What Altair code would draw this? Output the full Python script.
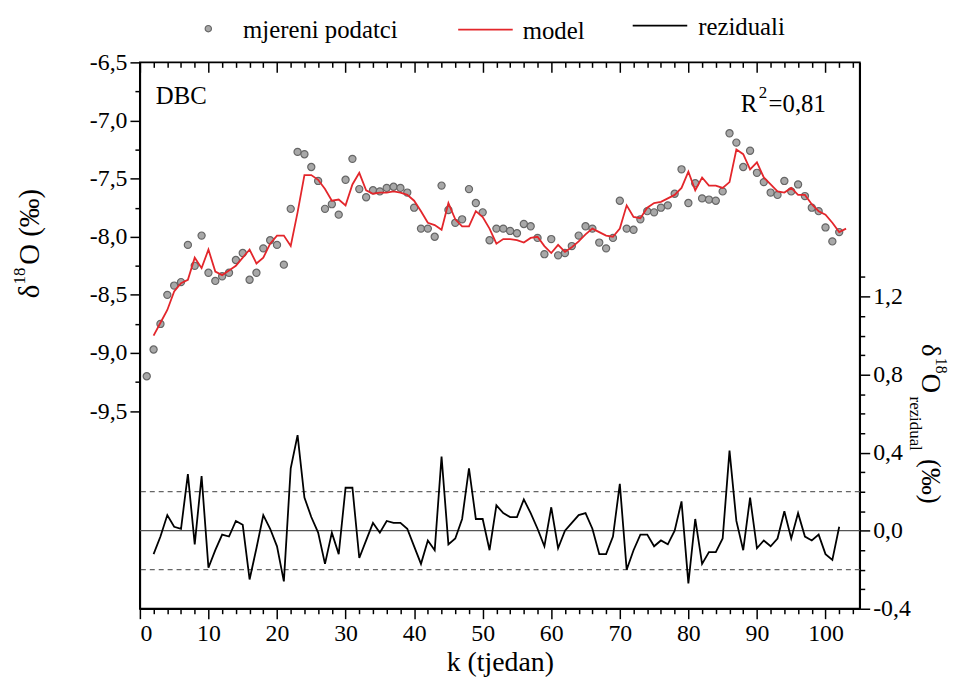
import altair as alt
import pandas as pd

# ---------------- data ----------------
k_measured = list(range(1, 103))
measured = [
    -9.20, -8.97, -8.75, -8.50, -8.42, -8.39, -8.07, -8.25, -7.99, -8.31,
    -8.38, -8.34, -8.31, -8.20, -8.14, -8.37, -8.31, -8.10, -8.03, -8.07,
    -8.24, -7.76, -7.27, -7.29, -7.40, -7.52, -7.76, -7.72, -7.81, -7.51,
    -7.33, -7.59, -7.66, -7.60, -7.61, -7.58, -7.57, -7.58, -7.62, -7.75,
    -7.93, -7.93, -8.00, -7.56, -7.77, -7.88, -7.85, -7.59, -7.71, -7.79,
    -8.03, -7.93, -7.93, -7.95, -7.97, -7.89, -7.91, -8.01, -8.15, -8.02,
    -8.16, -8.14, -8.08, -7.99, -7.91, -7.93, -8.05, -8.10, -8.01, -7.69,
    -7.93, -7.94, -7.85, -7.78, -7.79, -7.75, -7.73, -7.63, -7.42, -7.71,
    -7.54, -7.67, -7.68, -7.69, -7.61, -7.11, -7.19, -7.40, -7.26, -7.45,
    -7.53, -7.62, -7.64, -7.52, -7.61, -7.55, -7.65, -7.75, -7.78, -7.92,
    -8.04, -7.96,
]

k_model = list(range(2, 104))
model = [
    -8.85, -8.74, -8.63, -8.47, -8.40, -8.37, -8.18, -8.27, -8.11,
    -8.30, -8.33, -8.29, -8.25, -8.18, -8.11, -8.23, -8.18, -8.06, -7.99,
    -7.99, -8.08, -7.79, -7.47, -7.47, -7.51, -7.59, -7.69, -7.68, -7.73,
    -7.55, -7.45, -7.60, -7.63, -7.62, -7.62, -7.61, -7.62, -7.64, -7.69,
    -7.78, -7.88, -7.90, -7.94, -7.71, -7.85, -7.91, -7.91, -7.78, -7.83,
    -7.93, -8.06, -8.02, -8.02, -8.03, -8.05, -8.01, -8.00, -8.08, -8.14,
    -8.07, -8.13, -8.09, -8.04, -7.98, -7.93, -7.96, -7.99, -8.00, -7.93,
    -7.73, -7.83, -7.84, -7.75, -7.71, -7.70, -7.67, -7.64, -7.58, -7.44,
    -7.60, -7.49, -7.56, -7.56, -7.58, -7.53, -7.25, -7.29, -7.42, -7.36,
    -7.49, -7.55, -7.61, -7.62, -7.58, -7.64, -7.64, -7.72, -7.78, -7.81,
    -7.88, -7.96, -7.93,
]

k_resid = list(range(2, 103))
residuals = [
    -0.12, -0.03, 0.08, 0.02, 0.01, 0.29, -0.07, 0.28, -0.19,
    -0.10, -0.02, -0.03, 0.05, 0.03, -0.25, -0.09, 0.08, 0.01, -0.08,
    -0.26, 0.32, 0.49, 0.17, 0.07, -0.01, -0.17, -0.01, -0.12, 0.22,
    0.22, -0.14, -0.05, 0.04, -0.01, 0.05, 0.04, 0.04, 0.01, -0.08,
    -0.17, -0.05, -0.10, 0.38, -0.07, -0.04, 0.06, 0.32, 0.06, 0.06,
    -0.10, 0.13, 0.09, 0.07, 0.07, 0.16, 0.09, 0.01, -0.08, 0.12,
    -0.09, 0.00, 0.04, 0.08, 0.09, 0.01, -0.12, -0.12, -0.03, 0.24,
    -0.20, -0.10, -0.02, -0.02, -0.08, -0.05, -0.07, 0.00, 0.15, -0.27,
    0.06, -0.17, -0.11, -0.11, -0.04, 0.41, 0.05, -0.10, 0.17, -0.09,
    -0.05, -0.08, -0.04, 0.10, -0.04, 0.09, -0.03, -0.05, -0.02, -0.12,
    -0.15, 0.02,
]

zero_line = [0.0]
limit_lines = [-0.2, 0.2]

x_major = list(range(0, 101, 10))
x_minor = [v for v in range(2, 105, 2) if v % 10 != 0]
yl_major = [-6.5, -7.0, -7.5, -8.0, -8.5, -9.0, -9.5]
yl_minor = [-6.75, -7.25, -7.75, -8.25, -8.75, -9.25]
yr_major = [-0.4, 0.0, 0.4, 0.8, 1.2]
yr_minor = [-0.3, -0.2, -0.1, 0.1, 0.2, 0.3, 0.5, 0.6, 0.7, 0.9, 1.0, 1.1, 1.3]

df_meas = pd.DataFrame({"k": k_measured, "v": measured})
df_model = pd.DataFrame({"k": k_model, "v": model})
df_res = pd.DataFrame({"k": k_resid, "r": residuals})
df_zero = pd.DataFrame({"r": zero_line})
df_lim = pd.DataFrame({"r": limit_lines})

# ---------------- style ----------------
FONT = "Liberation Serif, Times New Roman, DejaVu Serif, serif"
W, H = 726, 551
RED = "#e3262b"
TICK_FS = 24

xs = alt.Scale(domain=[0, 105], nice=False, zero=False)
yls = alt.Scale(domain=[-11.2, -6.5], nice=False, zero=False)
yrs = alt.Scale(domain=[-0.4, 2.4], nice=False, zero=False)

comma = "replace(replace(format(datum.value, '.1f'), '.', ','), '\u2212', '-')"

common = dict(grid=False, labelFont=FONT, labelFontSize=TICK_FS, labelColor="black",
              tickColor="black", tickWidth=1.5, domainColor="black", domainWidth=1.5)

ax_bottom_major = alt.Axis(orient="bottom", values=x_major, tickSize=10, format="d",
                           labelPadding=3, title="k (tjedan)", titleFont=FONT,
                           titleFontSize=28, titleFontWeight="normal", titleColor="black",
                           titleBaseline="alphabetic", titleY=62, **common)
ax_bottom_minor = alt.Axis(orient="bottom", values=x_minor, tickSize=5, labels=False,
                           domain=False, title=None, **common)
ax_top_major = alt.Axis(orient="top", values=x_major, tickSize=10, offset=-10,
                        labels=False, domain=False, title=None, **common)
ax_top_minor = alt.Axis(orient="top", values=x_minor, tickSize=5, offset=-5,
                        labels=False, domain=False, title=None, **common)
ax_left_major = alt.Axis(orient="left", values=yl_major, tickSize=10, labelExpr=comma,
                         labelPadding=3, title=None, **common)
ax_left_minor = alt.Axis(orient="left", values=yl_minor, tickSize=5, labels=False,
                         domain=False, title=None, **common)
ax_right_major = alt.Axis(orient="right", values=yr_major, tickSize=10, labelExpr=comma,
                          labelPadding=3, title=None, **common)
ax_right_minor = alt.Axis(orient="right", values=yr_minor, tickSize=5, labels=False,
                          domain=False, title=None, **common)

# ---------------- layers ----------------
lim_rules = alt.Chart(df_lim).mark_rule(color="#666666", strokeWidth=1.3,
                                        strokeDash=[5, 4]).encode(
    y=alt.Y("r:Q", scale=yrs, axis=None))
zero_rule = alt.Chart(df_zero).mark_rule(color="#555555", strokeWidth=1.3).encode(
    y=alt.Y("r:Q", scale=yrs, axis=None))

res_line = alt.Chart(df_res).mark_line(color="black", strokeWidth=1.8).encode(
    x=alt.X("k:Q", scale=xs, axis=ax_top_major),
    y=alt.Y("r:Q", scale=yrs, axis=ax_right_major))
res_ghost = alt.Chart(df_res).mark_point(opacity=0).encode(
    x=alt.X("k:Q", scale=xs, axis=ax_top_minor),
    y=alt.Y("r:Q", scale=yrs, axis=ax_right_minor))

pts = alt.Chart(df_meas).mark_point(filled=True, size=52, fill="#a8a8a8",
                                    stroke="#666666", strokeWidth=1.2, opacity=1).encode(
    x=alt.X("k:Q", scale=xs, axis=ax_bottom_major),
    y=alt.Y("v:Q", scale=yls, axis=ax_left_major))
model_line = alt.Chart(df_model).mark_line(color=RED, strokeWidth=1.8).encode(
    x=alt.X("k:Q", scale=xs, axis=ax_bottom_minor),
    y=alt.Y("v:Q", scale=yls, axis=ax_left_minor))


def label(txt, x, y, size, angle=0, align="left", baseline="middle"):
    return alt.Chart(pd.DataFrame({"t": [txt]})).mark_text(
        font=FONT, fontSize=size, align=align, baseline=baseline, angle=angle,
        color="black").encode(x=alt.value(x), y=alt.value(y), text="t:N")


one = pd.DataFrame({"t": [0]})
leg_pt = alt.Chart(one).mark_point(filled=True, size=40, fill="#a8a8a8",
                                   stroke="#666666", strokeWidth=1.2, opacity=1).encode(
    x=alt.value(69), y=alt.value(-34))
leg_red = alt.Chart(one).mark_rule(color=RED, strokeWidth=1.8).encode(
    x=alt.value(321), x2=alt.value(376), y=alt.value(-33))
leg_blk = alt.Chart(one).mark_rule(color="black", strokeWidth=1.8).encode(
    x=alt.value(497), x2=alt.value(552), y=alt.value(-37))

texts = [
    label("mjereni podatci", 104, -33, 25),
    label("model", 386, -32, 25),
    label("reziduali", 563, -36, 25),
    label("DBC", 16, 42, 25, baseline="alphabetic"),
    label("R", 606, 50, 25, baseline="alphabetic"),
    label("2", 624, 36, 17, baseline="alphabetic"),
    label("=0,81", 634, 50, 25, baseline="alphabetic"),
    # left axis title (reads bottom to top)
    label("\u03b4", -111, 238, 29, angle=270),
    label("18", -121, 224, 17, angle=270),
    label("O (\u2030)", -111, 204, 29, angle=270),
    # right axis title (reads top to bottom)
    label("\u03b4", 797, 284, 27, angle=90),
    label("18", 808, 298, 16, angle=90),
    label("O", 797, 314, 27, angle=90),
    label("rezidual", 782, 337, 17, angle=90),
    label("(\u2030)", 797, 400, 27, angle=90),
]

chart = alt.layer(
    lim_rules, zero_rule, res_line, res_ghost, pts, model_line,
    leg_pt, leg_red, leg_blk, *texts,
).resolve_scale(y="independent").resolve_axis(
    x="independent", y="independent"
).properties(
    width=W, height=H,
    autosize=alt.AutoSizeParams(type="none"),
    padding={"left": 133, "top": 52, "right": 93, "bottom": 66},
    background="white",
).configure_view(stroke="black", strokeWidth=1.8)

chart.save("out.html", embed_options={"renderer": "svg", "actions": False})
